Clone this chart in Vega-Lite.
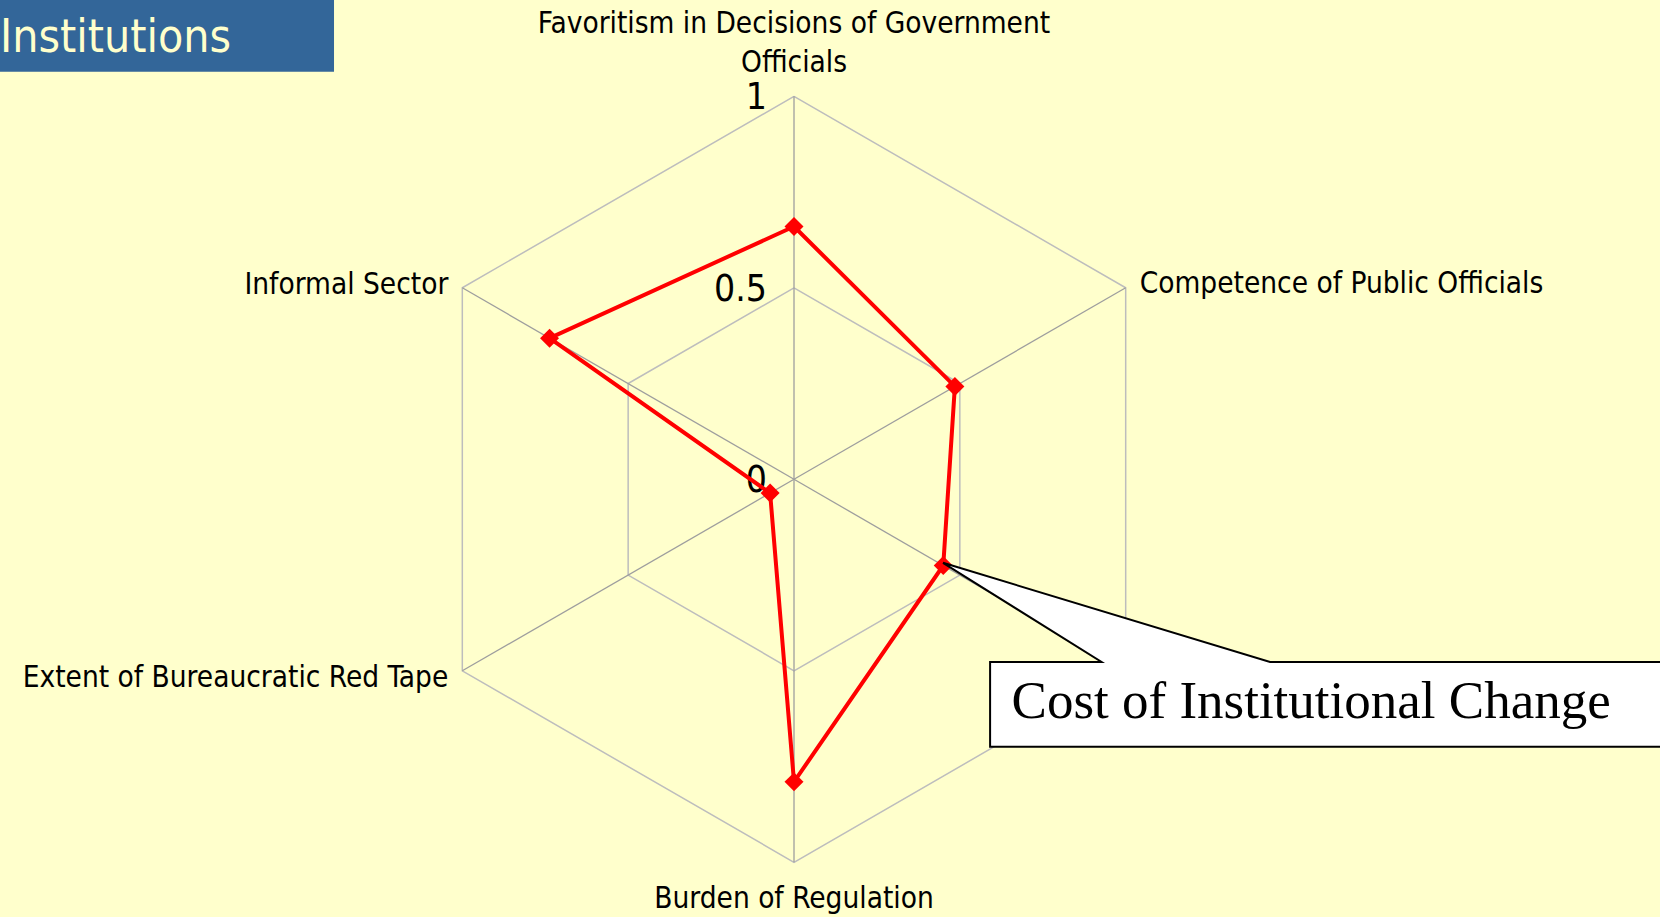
{
  "$schema": "https://vega.github.io/schema/vega-lite/v6.json",
  "width": 1660,
  "height": 917,
  "padding": 0,
  "autosize": {"type": "none"},
  "background": "#FFFFCC",
  "config": {"view": {"stroke": null}},
  "datasets": {
    "scores": [
      {"axis": "Favoritism in Decisions of Government Officials", "k": 0, "value": 0.66},
      {"axis": "Competence of Public Officials", "k": 1, "value": 0.485},
      {"axis": "Cost of Institutional Change", "k": 2, "value": 0.45},
      {"axis": "Burden of Regulation", "k": 3, "value": 0.79},
      {"axis": "Extent of Bureaucratic Red Tape", "k": 4, "value": 0.072},
      {"axis": "Informal Sector", "k": 5, "value": 0.737},
      {"axis": "Favoritism in Decisions of Government Officials", "k": 6, "value": 0.66}
    ],
    "rings": [
      {"ring": 0.5, "k": 0, "value": 0.5}, {"ring": 0.5, "k": 1, "value": 0.5}, {"ring": 0.5, "k": 2, "value": 0.5},
      {"ring": 0.5, "k": 3, "value": 0.5}, {"ring": 0.5, "k": 4, "value": 0.5}, {"ring": 0.5, "k": 5, "value": 0.5},
      {"ring": 0.5, "k": 6, "value": 0.5},
      {"ring": 1, "k": 0, "value": 1}, {"ring": 1, "k": 1, "value": 1}, {"ring": 1, "k": 2, "value": 1},
      {"ring": 1, "k": 3, "value": 1}, {"ring": 1, "k": 4, "value": 1}, {"ring": 1, "k": 5, "value": 1},
      {"ring": 1, "k": 6, "value": 1}
    ],
    "spokes": [
      {"k": 0, "value": 0}, {"k": 0, "value": 1},
      {"k": 1, "value": 0}, {"k": 1, "value": 1},
      {"k": 2, "value": 0}, {"k": 2, "value": 1},
      {"k": 3, "value": 0}, {"k": 3, "value": 1},
      {"k": 4, "value": 0}, {"k": 4, "value": 1},
      {"k": 5, "value": 0}, {"k": 5, "value": 1}
    ],
    "ticks": [
      {"k": 0, "value": 0, "label": "0"},
      {"k": 0, "value": 0.5, "label": "0.5"},
      {"k": 0, "value": 1, "label": "1"}
    ],
    "callout": [
      {"o": 0, "x": 0.389, "y": -0.218},
      {"o": 1, "x": 1.243, "y": -0.477},
      {"o": 2, "x": 2.35, "y": -0.477},
      {"o": 3, "x": 2.35, "y": -0.698},
      {"o": 4, "x": 0.512, "y": -0.698},
      {"o": 5, "x": 0.512, "y": -0.477},
      {"o": 6, "x": 0.803, "y": -0.477},
      {"o": 7, "x": 0.389, "y": -0.218}
    ]
  },
  "encoding": {
    "x": {"field": "x", "type": "quantitative", "scale": {"domain": [-2.0731, 2.2611], "nice": false, "zero": false}, "axis": null},
    "y": {"field": "y", "type": "quantitative", "scale": {"domain": [-1.1428, 1.2514], "nice": false, "zero": false}, "axis": null}
  },
  "layer": [
    {
      "data": {"values": [{"x": -2.0731, "x2": -1.201, "y": 1.2514, "y2": 1.0642}]},
      "mark": {"type": "rect", "color": "#336699"},
      "encoding": {"x2": {"field": "x2"}, "y2": {"field": "y2"}}
    },
    {
      "data": {"values": [{"x": -2.0731, "y": 1.1164, "label": "Institutions"}]},
      "mark": {"type": "text", "align": "left", "baseline": "alphabetic", "dx": 0, "font": "DejaVu Sans Condensed", "fontSize": 46, "color": "#FFFFCC"},
      "encoding": {"text": {"field": "label"}}
    },
    {
      "data": {"name": "rings"},
      "transform": [
        {"calculate": "PI/2 - datum.k*PI/3", "as": "a"},
        {"calculate": "datum.value*cos(datum.a)", "as": "x"},
        {"calculate": "datum.value*sin(datum.a)", "as": "y"}
      ],
      "mark": {"type": "line", "color": "#BDBDBD", "strokeWidth": 1.5},
      "encoding": {"detail": {"field": "ring"}, "order": {"field": "k", "type": "quantitative"}}
    },
    {
      "data": {"name": "spokes"},
      "transform": [
        {"calculate": "PI/2 - datum.k*PI/3", "as": "a"},
        {"calculate": "datum.value*cos(datum.a)", "as": "x"},
        {"calculate": "datum.value*sin(datum.a)", "as": "y"}
      ],
      "mark": {"type": "line", "color": "#9E9E9E", "strokeWidth": 1.3},
      "encoding": {"detail": {"field": "k"}, "order": {"field": "value", "type": "quantitative"}}
    },
    {
      "data": {"name": "ticks"},
      "transform": [
        {"calculate": "PI/2 - datum.k*PI/3", "as": "a"},
        {"calculate": "datum.value*cos(datum.a)", "as": "x"},
        {"calculate": "datum.value*sin(datum.a)", "as": "y"}
      ],
      "mark": {"type": "text", "align": "right", "baseline": "alphabetic", "dx": -27, "dy": 13, "font": "DejaVu Sans Condensed", "fontSize": 37, "color": "#000000"},
      "encoding": {"text": {"field": "label"}}
    },
    {
      "data": {"name": "scores"},
      "transform": [
        {"calculate": "PI/2 - datum.k*PI/3", "as": "a"},
        {"calculate": "datum.value*cos(datum.a)", "as": "x"},
        {"calculate": "datum.value*sin(datum.a)", "as": "y"}
      ],
      "mark": {"type": "line", "color": "#FF0000", "strokeWidth": 4},
      "encoding": {"order": {"field": "k", "type": "quantitative"}}
    },
    {
      "data": {"name": "scores"},
      "transform": [
        {"filter": "datum.k < 6"},
        {"calculate": "PI/2 - datum.k*PI/3", "as": "a"},
        {"calculate": "datum.value*cos(datum.a)", "as": "x"},
        {"calculate": "datum.value*sin(datum.a)", "as": "y"}
      ],
      "mark": {"type": "point", "shape": "diamond", "filled": true, "size": 360, "color": "#FF0000", "opacity": 1}
    },
    {
      "data": {"values": [{"k": 0, "value": 1, "label": "Favoritism in Decisions of Government\nOfficials"}]},
      "transform": [
        {"calculate": "PI/2 - datum.k*PI/3", "as": "a"},
        {"calculate": "datum.value*cos(datum.a)", "as": "x"},
        {"calculate": "datum.value*sin(datum.a)", "as": "y"}
      ],
      "mark": {"type": "text", "align": "center", "baseline": "alphabetic", "lineBreak": "\n", "lineHeight": 39, "dy": -63, "font": "DejaVu Sans Condensed", "fontSize": 29.5, "color": "#000000"},
      "encoding": {"text": {"field": "label"}}
    },
    {
      "data": {"values": [{"k": 1, "value": 1, "label": "Competence of Public Officials"}]},
      "transform": [
        {"calculate": "PI/2 - datum.k*PI/3", "as": "a"},
        {"calculate": "datum.value*cos(datum.a)", "as": "x"},
        {"calculate": "datum.value*sin(datum.a)", "as": "y"}
      ],
      "mark": {"type": "text", "align": "left", "baseline": "alphabetic", "dx": 14, "dy": 5, "font": "DejaVu Sans Condensed", "fontSize": 29.5, "color": "#000000"},
      "encoding": {"text": {"field": "label"}}
    },
    {
      "data": {"values": [{"k": 3, "value": 1, "label": "Burden of Regulation"}]},
      "transform": [
        {"calculate": "PI/2 - datum.k*PI/3", "as": "a"},
        {"calculate": "datum.value*cos(datum.a)", "as": "x"},
        {"calculate": "datum.value*sin(datum.a)", "as": "y"}
      ],
      "mark": {"type": "text", "align": "center", "baseline": "alphabetic", "dy": 46, "font": "DejaVu Sans Condensed", "fontSize": 29.5, "color": "#000000"},
      "encoding": {"text": {"field": "label"}}
    },
    {
      "data": {"values": [{"k": 4, "value": 1, "label": "Extent of Bureaucratic Red Tape"}]},
      "transform": [
        {"calculate": "PI/2 - datum.k*PI/3", "as": "a"},
        {"calculate": "datum.value*cos(datum.a)", "as": "x"},
        {"calculate": "datum.value*sin(datum.a)", "as": "y"}
      ],
      "mark": {"type": "text", "align": "right", "baseline": "alphabetic", "dx": -14, "dy": 16, "font": "DejaVu Sans Condensed", "fontSize": 29.5, "color": "#000000"},
      "encoding": {"text": {"field": "label"}}
    },
    {
      "data": {"values": [{"k": 5, "value": 1, "label": "Informal Sector"}]},
      "transform": [
        {"calculate": "PI/2 - datum.k*PI/3", "as": "a"},
        {"calculate": "datum.value*cos(datum.a)", "as": "x"},
        {"calculate": "datum.value*sin(datum.a)", "as": "y"}
      ],
      "mark": {"type": "text", "align": "right", "baseline": "alphabetic", "dx": -14, "dy": 6, "font": "DejaVu Sans Condensed", "fontSize": 29.5, "color": "#000000"},
      "encoding": {"text": {"field": "label"}}
    },
    {
      "data": {"name": "callout"},
      "mark": {"type": "line", "fill": "#FFFFFF", "stroke": "#000000", "strokeWidth": 2, "clip": true},
      "encoding": {"order": {"field": "o", "type": "quantitative"}}
    },
    {
      "data": {"values": [{"x": 0.568, "y": -0.624, "label": "Cost of Institutional Change"}]},
      "mark": {"type": "text", "align": "left", "baseline": "alphabetic", "font": "Liberation Serif", "fontSize": 53, "color": "#000000"},
      "encoding": {"text": {"field": "label"}}
    }
  ]
}
